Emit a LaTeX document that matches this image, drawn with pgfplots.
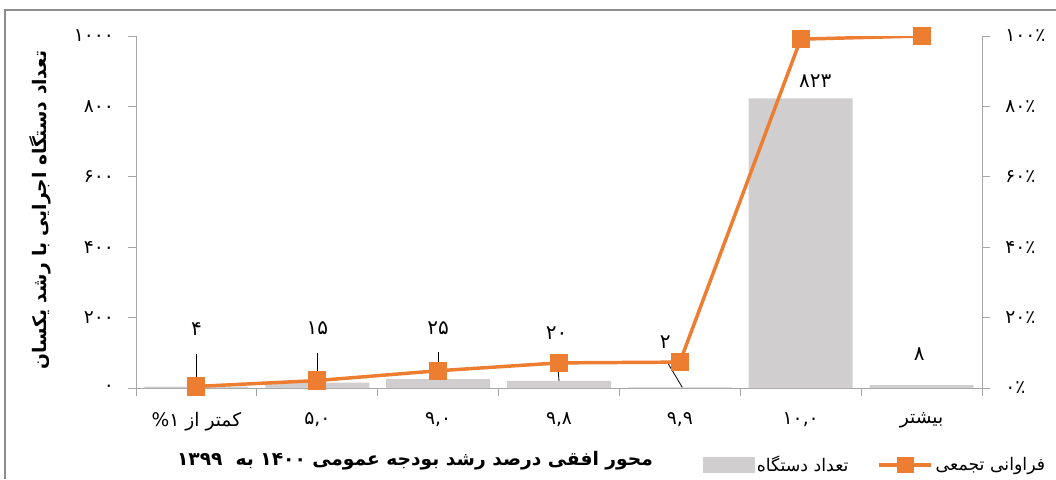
\documentclass[border=0pt]{standalone}
\usepackage{fontspec}
\setmainfont{DejaVu Sans}
\newfontfamily\fa[Script=Arabic]{DejaVu Sans}
\usepackage{pgfplots}
\usepackage{pgfplotstable}
\pgfplotsset{compat=1.18}
\TeXXeTstate=1

\definecolor{barGray}{HTML}{D0CECE}
\definecolor{lineOrange}{HTML}{ED7D31}
\definecolor{axGray}{HTML}{A6A6A6}
\definecolor{frameGray}{HTML}{8C8C8C}

% number of executive bodies per growth class, and the cumulative share
\pgfplotstableread{
x count cum
0 4   0.00446
1 15  0.02118
2 25  0.04905
3 20  0.07135
4 2   0.07358
5 823 0.99108
6 8   1.00000
}\devices

\begin{document}
\begin{tikzpicture}[x=0.75pt,y=0.75pt]
\useasboundingbox (0,0) rectangle (1056,-479);
\draw[frameGray, line width=1pt] (5,-479) -- (5,-10) -- (1056,-10);

\pgfplotsset{
  common/.style={
    at={(102pt,-291pt)}, anchor=south west,
    scale only axis, width=634.5pt, height=264pt,
    xmin=-0.5, xmax=6.5,
    axis line style={axGray, line width=0.75pt},
    tick style={axGray, line width=0.75pt},
    tick align=outside, major tick length=6pt,
    every tick label/.append style={font=\fa\fontsize{14}{16}\selectfont, black},
  }
}

\begin{axis}[common,
  ymin=0, ymax=1000,
  axis y line*=left, axis x line*=bottom,
  ytick={0,200,...,1000},
  yticklabels={۰,۲۰۰,۴۰۰,۶۰۰,۸۰۰,۱۰۰۰},
  yticklabel style={xshift=-7pt},
  xtick={-0.5,0.5,...,6.5}, xticklabels={},
  extra x ticks={0,1,2,3,4,5,6},
  extra x tick labels={{\beginR کمتر از ۱\kern0pt\%\endR},{۵,۰},{۹,۰},{۹,۸},{۹,۹},{۱۰,۰},بیشتر},
  extra x tick style={major tick length=0pt, tick label style={yshift=-15pt}},
]
\addplot[ybar, bar width=78pt, fill=barGray, draw=none] table[x=x,y=count]{\devices};

% data labels with their leader lines
\begin{scope}[font=\fa\fontsize{15}{17}\selectfont]
\node at (axis cs:0,168) {۴};
\node at (axis cs:1,170) {۱۵};
\node at (axis cs:2,170) {۲۵};
\node at (axis cs:2.98,155) {۲۰};
\node at (axis cs:3.88,130) {۲};
\node at (axis cs:5.12,872) {۸۲۳};
\node at (axis cs:5.98,96) {۸};
\end{scope}
\begin{scope}[black, line width=0.6pt]
\draw (axis cs:0,97) -- (axis cs:0,4);
\draw (axis cs:1,99) -- (axis cs:1,15);
\draw (axis cs:2,102) -- (axis cs:2,25);
\draw (axis cs:2.985,85) -- (axis cs:3,20);
\draw (axis cs:3.9,71) -- (axis cs:4.02,2);
\end{scope}
\end{axis}

\begin{axis}[common,
  ymin=0, ymax=1,
  axis y line*=right, axis x line=none,
  ytick={0,0.2,...,1},
  yticklabels={۰٪,۲۰٪,۴۰٪,۶۰٪,۸۰٪,۱۰۰٪},
  yticklabel style={xshift=8pt},
  legend columns=2,
  legend style={at={(0.874,-0.219)}, anchor=center, draw=none, fill=none,
    font=\fa\fontsize{13}{15}\selectfont,
    /tikz/every even column/.append style={column sep=20pt}},
]
\addlegendimage{legend image code/.code={\fill[barGray] (0pt,-5.5pt) rectangle (38pt,5.5pt);}}
\addlegendentry{\beginR تعداد دستگاه\endR}
\addplot[lineOrange, line width=2.6pt, mark=square*, mark size=5.5pt,
  legend image code/.code={\draw[lineOrange, line width=2.4pt] (0pt,0pt) -- (39pt,0pt);
    \fill[lineOrange] (14.5pt,-5pt) rectangle (24.5pt,5pt);}]
  table[x=x,y=cum]{\devices};
\addlegendentry{\beginR فراوانی تجمعی\endR}
\end{axis}

\node[font=\fa\bfseries\fontsize{14}{16}\selectfont] at (415,-461)
  {\beginR محور افقی درصد رشد بودجه عمومی \beginL۱۴۰۰\endL{} به \ \beginL۱۳۹۹\endL\endR};
\node[rotate=90, font=\fa\bfseries\fontsize{14}{16}\selectfont] at (40,-210)
  {\beginR تعداد دستگاه اجرایی با رشد یکسان\endR};
\end{tikzpicture}
\end{document}
